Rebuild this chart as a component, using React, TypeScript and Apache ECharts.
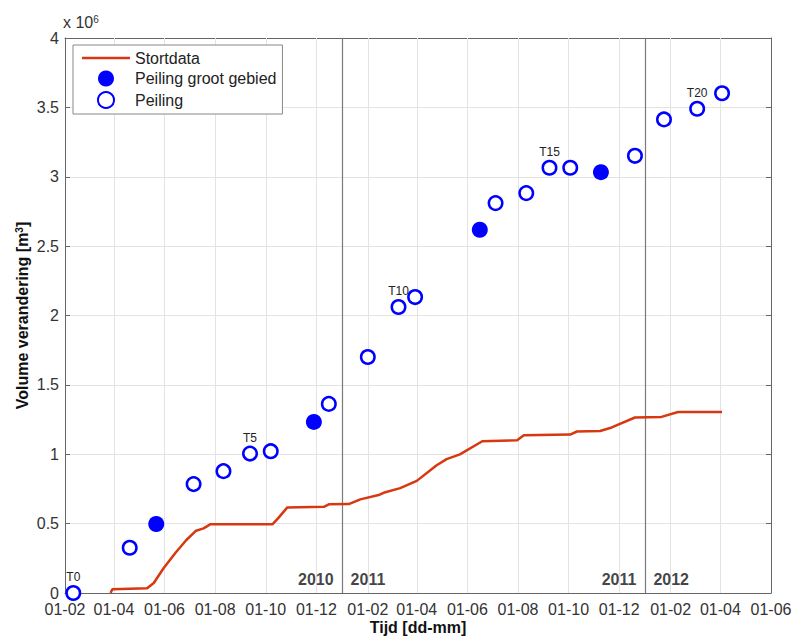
import React, { useEffect, useRef } from 'react';
import * as echarts from 'echarts';

// ---- Data (volumes in millions of m3) ----
const tickDates = [
  '2010-02-01', '2010-04-01', '2010-06-01', '2010-08-01', '2010-10-01', '2010-12-01',
  '2011-02-01', '2011-04-01', '2011-06-01', '2011-08-01', '2011-10-01', '2011-12-01',
  '2012-02-01', '2012-04-01', '2012-06-01',
];

const stortDates = [
  '2010-03-28', '2010-03-30', '2010-05-11', '2010-05-19', '2010-05-31', '2010-06-14',
  '2010-06-27', '2010-07-09', '2010-07-18', '2010-07-26', '2010-10-09', '2010-10-16',
  '2010-10-27', '2010-12-10', '2010-12-16', '2011-01-09', '2011-01-23', '2011-02-14',
  '2011-02-20', '2011-03-12', '2011-04-01', '2011-04-25', '2011-05-07', '2011-05-23',
  '2011-06-19', '2011-07-31', '2011-08-08', '2011-10-03', '2011-10-11', '2011-11-08',
  '2011-11-22', '2011-12-20', '2012-01-21', '2012-02-10', '2012-04-03',
];
const stortVolume = [
  0, 0.027, 0.034, 0.072, 0.18, 0.288,
  0.38, 0.449, 0.466, 0.495, 0.495, 0.54,
  0.617, 0.621, 0.639, 0.641, 0.675, 0.706,
  0.722, 0.756, 0.808, 0.921, 0.965, 0.999,
  1.094, 1.101, 1.137, 1.142, 1.164, 1.168,
  1.193, 1.265, 1.269, 1.305, 1.305,
];

const peilingDates = [
  '2010-02-11', '2010-04-20', '2010-05-22', '2010-07-06', '2010-08-11', '2010-09-12',
  '2010-10-07', '2010-11-28', '2010-12-16', '2011-02-01', '2011-03-10', '2011-03-30',
  '2011-06-16', '2011-07-05', '2011-08-11', '2011-09-08', '2011-10-03', '2011-11-09',
  '2011-12-20', '2012-01-24', '2012-03-04', '2012-04-03',
];
const peilingVolume = [
  0, 0.326, 0.497, 0.785, 0.878, 1.005,
  1.022, 1.233, 1.363, 1.701, 2.061, 2.133,
  2.618, 2.81, 2.882, 3.065, 3.065, 3.033,
  3.151, 3.413, 3.49, 3.602,
];
const grootGebiedIdx = [2, 7, 12, 17];
const peilingLabels: Record<number, string> = { 0: 'T0', 5: 'T5', 10: 'T10', 15: 'T15', 20: 'T20' };

const yearDividers = ['2011-01-01', '2012-01-01'];
const yearLabelsLeft = ['2010', '2011'];
const yearLabelsRight = ['2011', '2012'];
const yearLabelLevel = 0.1;

const yTicks = { min: 0, max: 4, interval: 0.5 };

// ---- helpers ----
const ts = (s: string) => {
  const [y, m, d] = s.split('-').map(Number);
  return new Date(y, m - 1, d).getTime();
};
const pad = (n: number) => (n < 10 ? '0' + n : '' + n);
const fmtTick = (v: number) => {
  const d = new Date(v);
  return pad(d.getDate()) + '-' + pad(d.getMonth() + 1);
};

const FONT = 'Arial, "Liberation Sans", Helvetica, sans-serif';
const AXIS = '#666';
const GRID = '#e3e3e3';
const BLUE = '#0000ff';
const RED = '#d8380f';

export default function App() {
  const ref = useRef<HTMLDivElement>(null);
  useEffect(() => {
    const chart = echarts.init(ref.current!, null, { renderer: 'svg' });
    const tickTs = tickDates.map(ts);
    const xMin = tickTs[0];
    const xMax = tickTs[tickTs.length - 1];

    const gridLines = tickTs.slice(1, -1).map((t) => ({
      xAxis: t,
      lineStyle: { color: GRID, width: 1, type: 'solid' },
    }));
    const yearLines = yearDividers.map((d) => ({
      xAxis: ts(d),
      lineStyle: { color: '#7a7a7a', width: 1.2, type: 'solid' },
    }));

    const filled = grootGebiedIdx.map((i) => [ts(peilingDates[i]), peilingVolume[i]]);
    const open = peilingDates
      .map((d, i) => ({ d, i }))
      .filter(({ i }) => grootGebiedIdx.indexOf(i) < 0)
      .map(({ d, i }) => {
        const item: any = { value: [ts(d), peilingVolume[i]] };
        if (peilingLabels[i]) {
          item.label = {
            show: true,
            formatter: peilingLabels[i],
            position: 'top',
            distance: 2,
            fontSize: 12,
            color: '#222',
            fontFamily: FONT,
          };
        }
        return item;
      });

    const yearItems: any[] = [];
    yearDividers.forEach((d, k) => {
      yearItems.push({ value: [ts(d), yearLabelLevel], label: { formatter: yearLabelsLeft[k], position: 'left' } });
      yearItems.push({ value: [ts(d), yearLabelLevel], label: { formatter: yearLabelsRight[k], position: 'right' } });
    });

    const baseX = {
      type: 'value',
      min: xMin,
      max: xMax,
      scale: true,
      splitLine: { show: false },
      axisLine: { show: true, onZero: false, lineStyle: { color: AXIS, width: 1 } },
      axisTick: { show: true, inside: true, length: 5, customValues: tickTs, lineStyle: { color: AXIS } },
    };
    const baseY = {
      type: 'value',
      min: yTicks.min,
      max: yTicks.max,
      interval: yTicks.interval,
      axisLine: { show: true, lineStyle: { color: AXIS, width: 1 } },
      axisTick: { show: true, inside: true, length: 5, lineStyle: { color: AXIS } },
    };

    chart.setOption({
      animation: false,
      backgroundColor: '#fff',
      textStyle: { fontFamily: FONT },
      grid: { left: 65, right: 23, top: 38, bottom: 43, containLabel: false, outerBoundsMode: 'none' },
      legend: {
        data: [
          { name: 'Stortdata', icon: 'path://M0,0 L48,0 L48,2.5 L0,2.5 Z' },
          { name: 'Peiling groot gebied' },
          { name: 'Peiling' },
        ],
        orient: 'vertical',
        left: 73,
        top: 45,
        padding: [5, 6, 5, 9],
        itemWidth: 48,
        itemHeight: 16,
        itemGap: 4.5,
        borderColor: '#888',
        borderWidth: 1,
        borderRadius: 0,
        backgroundColor: '#fff',
        selectedMode: false,
        textStyle: { fontSize: 16, color: '#222', fontFamily: FONT, lineHeight: 16 },
      },
      graphic: [
        {
          type: 'text',
          left: 63,
          top: 14,
          style: {
            text: 'x 10{s|6}',
            fontSize: 16,
            fontFamily: FONT,
            fill: '#333',
            rich: { s: { fontSize: 10, verticalAlign: 'top', fill: '#333', fontFamily: FONT } },
          },
        },
      ],
      xAxis: [
        {
          ...baseX,
          position: 'bottom',
          axisLabel: {
            show: true,
            customValues: tickTs,
            formatter: fmtTick,
            margin: 8,
            fontSize: 16,
            color: '#333',
            fontFamily: FONT,
            showMinLabel: true,
            showMaxLabel: true,
            hideOverlap: false,
          },
          name: 'Tijd [dd-mm]',
          nameLocation: 'middle',
          nameGap: 26,
          nameMoveOverlap: false,
          nameTextStyle: { fontSize: 16, fontWeight: 'bold', color: '#111', fontFamily: FONT, lineHeight: 16 },
        },
        {
          ...baseX,
          position: 'top',
          axisLabel: { show: false },
        },
      ],
      yAxis: [
        {
          ...baseY,
          position: 'left',
          splitLine: { show: true, lineStyle: { color: GRID, width: 1 } },
          axisLabel: {
            show: true,
            margin: 6,
            fontSize: 16,
            color: '#333',
            fontFamily: FONT,
            formatter: (v: number) => String(v),
          },
          name: 'Volume verandering [m{sup|3}]',
          nameLocation: 'middle',
          nameGap: 35,
          nameMoveOverlap: false,
          nameRotate: 90,
          nameTextStyle: {
            fontSize: 16,
            fontWeight: 'bold',
            color: '#111',
            fontFamily: FONT,
            rich: { sup: { fontSize: 10, fontWeight: 'bold', verticalAlign: 'top', color: '#111', fontFamily: FONT } },
          },
        },
        {
          ...baseY,
          position: 'right',
          splitLine: { show: false },
          axisLabel: { show: false },
        },
      ],
      series: [
        {
          name: 'Stortdata',
          type: 'line',
          xAxisIndex: 0,
          yAxisIndex: 0,
          data: stortDates.map((d, i) => [ts(d), stortVolume[i]]),
          symbol: 'none',
          showSymbol: false,
          lineStyle: { color: RED, width: 2.5 },
          itemStyle: { color: RED },
          z: 2,
          markLine: {
            silent: true,
            z: 1,
            symbol: ['none', 'none'],
            label: { show: false },
            emphasis: { disabled: true },
            data: [...gridLines, ...yearLines],
          },
        },
        {
          name: 'Peiling groot gebied',
          type: 'scatter',
          xAxisIndex: 0,
          yAxisIndex: 0,
          data: filled,
          symbol: 'circle',
          symbolSize: 16,
          itemStyle: { color: BLUE, opacity: 1 },
          z: 3,
        },
        {
          name: 'Peiling',
          type: 'scatter',
          xAxisIndex: 0,
          yAxisIndex: 0,
          data: open,
          symbol: 'circle',
          symbolSize: 13.5,
          itemStyle: { color: '#fff', borderColor: BLUE, borderWidth: 2.5, opacity: 1 },
          z: 3,
        },
        {
          name: 'jaren',
          type: 'scatter',
          xAxisIndex: 0,
          yAxisIndex: 0,
          data: yearItems,
          symbolSize: 1,
          silent: true,
          itemStyle: { color: 'rgba(0,0,0,0)' },
          label: {
            show: true,
            distance: 8,
            fontSize: 16,
            fontWeight: 'bold',
            color: '#111',
            fontFamily: FONT,
          },
          z: 3,
        },
      ],
    });
    return () => chart.dispose();
  }, []);
  return (
    <div
      ref={ref}
      style={{ position: 'absolute', left: 0, top: 0, width: 794, height: 636, background: '#fff' }}
    />
  );
}
